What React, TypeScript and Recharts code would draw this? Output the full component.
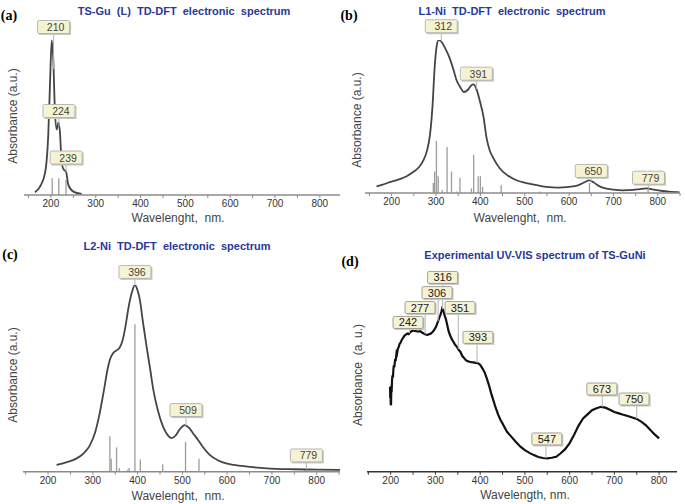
import React from "react";
import { ComposedChart, Line, XAxis, YAxis, ReferenceLine, ReferenceDot } from "recharts";

const W = 685;
const H = 504;
const XAXIS_H = 30;
const SANS = '"Liberation Sans", Arial, sans-serif';

// (a) TS-Gu (L) TD-DFT
const aWave = [164.5, 175.7, 186.9, 194.3, 198, 201.8, 205.4, 209, 213, 216.6, 220.3, 224, 229, 233.7, 238.9, 250, 268.7];
const aAbs = [0.016, 0.05, 0.13, 0.37, 0.66, 0.92, 0.8, 0.5, 0.39, 0.43, 0.37, 0.19, 0.15, 0.14, 0.06, 0.02, 0.006];
const aStickWave = [203, 217.6, 233.7];
const aStickAbs = [0.1, 0.1, 0.09];
const aPeaks = ["210", "224", "239"];
const aTagX = [206, 218, 234];
const aTagY = [1.0, 0.5, 0.223];

// (b) L1-Ni TD-DFT
const bWave = [166, 180, 200, 220, 234, 250, 262, 271, 280, 286, 292, 297, 301, 306, 312, 320, 331, 340, 346, 355, 363, 372, 380, 385, 391, 399, 407, 414, 421, 429, 444, 459, 480, 504, 530, 549, 575, 600, 620, 635, 645, 655, 665, 676, 700, 721, 745, 760, 775, 790, 810, 830, 849];
const bAbs = [0.043, 0.055, 0.075, 0.092, 0.11, 0.14, 0.17, 0.21, 0.28, 0.37, 0.56, 0.82, 0.95, 1.0, 0.99, 0.95, 0.88, 0.8, 0.74, 0.69, 0.66, 0.675, 0.705, 0.71, 0.68, 0.6, 0.5, 0.36, 0.28, 0.23, 0.16, 0.12, 0.085, 0.065, 0.05, 0.04, 0.035, 0.04, 0.05, 0.07, 0.082, 0.07, 0.05, 0.035, 0.022, 0.017, 0.02, 0.026, 0.03, 0.022, 0.013, 0.008, 0.004];
const bStickWave = [294, 297, 301, 305, 314, 325, 335, 346, 354, 380, 385, 395, 400, 405, 447, 534, 646, 778];
const bStickAbs = [0.065, 0.14, 0.34, 0.11, 0.02, 0.3, 0.14, 0.01, 0.1, 0.03, 0.25, 0.11, 0.11, 0.04, 0.05, 0.01, 0.065, 0.02];
const bPeaks = ["312", "391", "650", "779"];
const bTagX = [312, 391, 650, 779];
const bTagY = [1.09, 0.78, 0.144, 0.1];

// (c) L2-Ni TD-DFT
const cWave = [219, 240, 263, 280, 293, 305, 315, 325, 333, 338, 345, 353, 360, 366, 373, 379, 386, 394, 400, 405, 412, 420, 428, 435, 445, 457, 466, 476, 485, 495, 505, 515, 524, 532, 545, 561, 580, 600, 614, 650, 688, 750, 800, 852];
const cAbs = [0.036, 0.05, 0.07, 0.1, 0.14, 0.21, 0.31, 0.44, 0.55, 0.6, 0.635, 0.65, 0.665, 0.7, 0.78, 0.87, 0.95, 1.0, 0.97, 0.92, 0.8, 0.67, 0.55, 0.44, 0.33, 0.24, 0.2, 0.18, 0.195, 0.23, 0.25, 0.235, 0.205, 0.18, 0.135, 0.09, 0.06, 0.043, 0.036, 0.026, 0.018, 0.013, 0.011, 0.01];
const cStickWave = [338, 341, 353, 359, 378, 381, 394, 406, 456, 507, 537, 774];
const cStickAbs = [0.19, 0.07, 0.13, 0.018, 0.01, 0.02, 0.79, 0.066, 0.04, 0.16, 0.07, 0.01];
const cPeaks = ["396", "509", "779"];
const cTagX = [394, 508, 777];
const cTagY = [1.07, 0.33, 0.087];

// (d) experimental UV-VIS
const dWave = [198.5, 199, 199.5, 200, 200.7, 201.5, 202, 203, 204, 205, 206, 207, 208, 210, 211, 213, 214, 216, 218, 220, 222, 225, 228, 231, 234, 237, 240, 243, 246, 250, 254, 258, 262, 266, 270, 274, 278, 282, 286, 290, 294, 298, 302, 306, 309, 311, 313, 315, 317, 319, 321, 323, 326, 329, 332, 336, 340, 344, 348, 352, 356, 360, 364, 368, 372, 376, 380, 385, 390, 395, 400, 405, 410, 415, 420, 425, 430, 435, 440, 445, 450, 455, 460, 470, 480, 490, 500, 510, 520, 530, 540, 550, 560, 570, 580, 590, 600, 610, 620, 630, 640, 650, 660, 670, 680, 690, 700, 710, 720, 730, 740, 750, 760, 770, 780, 790, 800];
const dAbs = [0.415, 0.36, 0.4, 0.33, 0.325, 0.42, 0.39, 0.45, 0.47, 0.46, 0.5, 0.52, 0.51, 0.55, 0.54, 0.58, 0.575, 0.6, 0.61, 0.625, 0.63, 0.645, 0.655, 0.665, 0.67, 0.675, 0.672, 0.68, 0.685, 0.69, 0.688, 0.686, 0.684, 0.686, 0.68, 0.675, 0.67, 0.668, 0.672, 0.675, 0.684, 0.695, 0.712, 0.735, 0.755, 0.765, 0.78, 0.797, 0.79, 0.775, 0.76, 0.748, 0.72, 0.69, 0.67, 0.65, 0.635, 0.62, 0.61, 0.595, 0.585, 0.565, 0.555, 0.545, 0.54, 0.537, 0.535, 0.534, 0.532, 0.53, 0.522, 0.505, 0.485, 0.455, 0.42, 0.38, 0.345, 0.31, 0.28, 0.255, 0.235, 0.215, 0.195, 0.17, 0.145, 0.122, 0.105, 0.092, 0.081, 0.072, 0.067, 0.065, 0.068, 0.073, 0.09, 0.11, 0.14, 0.18, 0.225, 0.26, 0.28, 0.3, 0.31, 0.317, 0.313, 0.303, 0.292, 0.285, 0.278, 0.272, 0.265, 0.258, 0.245, 0.228, 0.205, 0.182, 0.163];
const dPeaks = ["316", "306", "351", "277", "242", "393", "673", "750", "547"];
const dTagX = [316, 303.5, 355, 265.5, 238.7, 395, 672, 744, 549];
const dTagY = [0.949, 0.875, 0.802, 0.802, 0.729, 0.656, 0.404, 0.355, 0.16];
const dLeadX = [316, 306, 351, 277, 242, 393, 673, 750, 547];

const xTicks = [150, 200, 250, 300, 350, 400, 450, 500, 550, 600, 650, 700, 750, 800, 850];

type Rect = { l: number; t: number; r: number; b: number };

function interp(xs: number[], ys: number[], x: number) {
  for (let i = 1; i < xs.length; i++) {
    if (x <= xs[i]) {
      const f = (x - xs[i - 1]) / (xs[i] - xs[i - 1]);
      return ys[i - 1] + f * (ys[i] - ys[i - 1]);
    }
  }
  return ys[ys.length - 1];
}

const Tag = ({ cx, cy, text, w, h, dark }: any) => (
  <g>
    <rect x={cx - w / 2 + 1.5} y={cy - h / 2 + 1.5} width={w} height={h} fill="#c8c8c8" />
    <rect x={cx - w / 2} y={cy - h / 2} width={w} height={h} rx={1.5} fill="#f6f3d2" stroke={dark ? "#8c8c8c" : "#a8a8a8"} strokeWidth={0.8} />
    <text x={cx + (dark ? 0 : 2)} y={cy + 4} textAnchor="middle" fontSize={dark ? 11 : 10.5} fontFamily={SANS} fill={dark ? "#1a1a1a" : "#444"}>
      {text}
    </text>
  </g>
);

function Spectrum(props: {
  plot: Rect;
  domain: [number, number];
  wave: number[];
  abs: number[];
  stickWave?: number[];
  stickAbs?: number[];
  peaks: string[];
  tagX: number[];
  tagY: number[];
  leadX?: number[];
  dark?: boolean;
}) {
  const { plot, domain, wave, abs, dark } = props;
  const data = wave.map((nm, i) => ({ nm, a: abs[i] }));
  const plotH = plot.b - plot.t;
  const tagW = dark ? 30 : 32;
  const tagH = dark ? 12 : 13;
  const axisColor = dark ? "#333" : "#8c8c8c";
  const ticks = xTicks.filter((t) => t >= domain[0] && t <= domain[1]);
  const leadX = props.leadX || props.tagX;

  return (
    <div style={{ position: "absolute", left: 0, top: 0 }}>
      <ComposedChart
        width={W}
        height={H}
        data={data}
        margin={{ left: plot.l, top: plot.t, right: W - plot.r, bottom: H - plot.b - XAXIS_H }}
      >
        <XAxis
          dataKey="nm"
          type="number"
          domain={domain}
          allowDataOverflow
          ticks={ticks}
          interval={0}
          height={XAXIS_H}
          tickFormatter={(v: number) => (v % 100 === 0 && v >= 200 && v <= 800 ? String(v) : "")}
          tick={{ fontSize: 10, fill: "#333", fontFamily: SANS }}
          tickSize={3}
          tickMargin={2}
          axisLine={{ stroke: axisColor, strokeWidth: dark ? 1.6 : 1.4 }}
          tickLine={{ stroke: axisColor }}
        />
        <YAxis
          type="number"
          domain={[0, 1]}
          allowDataOverflow
          width={0}
          tick={false}
          tickLine={false}
          axisLine={{ stroke: axisColor, strokeWidth: dark ? 1.6 : 1.4 }}
        />
        {(props.stickWave || []).map((s, i) => (
          <ReferenceLine
            key={"s" + i}
            segment={[
              { x: s, y: 0 },
              { x: s, y: props.stickAbs![i] },
            ]}
            stroke="#9c9c9c"
            strokeWidth={1.3}
            ifOverflow="visible"
          />
        ))}
        <Line
          dataKey="a"
          type={dark ? "linear" : "monotone"}
          stroke={dark ? "#111" : "#454545"}
          strokeWidth={dark ? 2.2 : 1.8}
          dot={false}
          isAnimationActive={false}
        />
        {props.peaks.map((p, i) => {
          const top = props.tagY[i] - tagH / 2 / plotH;
          const bottom = interp(wave, abs, leadX[i]);
          if (bottom >= top) return null;
          return (
            <ReferenceLine
              key={"l" + i}
              segment={[
                { x: leadX[i], y: top },
                { x: leadX[i], y: bottom },
              ]}
              stroke="#b4b4b4"
              strokeWidth={1}
              ifOverflow="visible"
            />
          );
        })}
        {props.peaks.map((p, i) => (
          <ReferenceDot
            key={"t" + i}
            x={props.tagX[i]}
            y={props.tagY[i]}
            r={0}
            ifOverflow="visible"
            shape={(sp: any) => <Tag cx={sp.cx} cy={sp.cy} text={p} w={tagW} h={tagH} dark={dark} />}
          />
        ))}
      </ComposedChart>
    </div>
  );
}

const Txt = ({ x, y, rot, style, children }: any) => (
  <div
    style={{
      position: "absolute",
      left: x,
      top: y,
      transform: `translate(-50%, -50%)${rot ? " rotate(-90deg)" : ""}`,
      whiteSpace: "pre",
      lineHeight: 1,
      ...style,
    }}
  >
    {children}
  </div>
);

const titleStyle = { fontFamily: SANS, fontWeight: 700, fontSize: 11, color: "#28399a" };
const letterStyle = { fontFamily: '"Liberation Serif", "Times New Roman", serif', fontWeight: 700, fontSize: 14, color: "#000" };
const axisTitle = { fontFamily: SANS, fontSize: 12, color: "#444" };

export default function App() {
  return (
    <div style={{ position: "absolute", left: 0, top: 0, width: W, height: H, background: "#fff", overflow: "hidden" }}>
      <Spectrum plot={{ l: 24, t: 27, r: 340, b: 195 }} domain={[140, 845]} wave={aWave} abs={aAbs}
        stickWave={aStickWave} stickAbs={aStickAbs} peaks={aPeaks} tagX={aTagX} tagY={aTagY} />
      <Spectrum plot={{ l: 365, t: 40, r: 680, b: 193 }} domain={[140, 850]} wave={bWave} abs={bAbs}
        stickWave={bStickWave} stickAbs={bStickAbs} peaks={bPeaks} tagX={bTagX} tagY={bTagY} />
      <Spectrum plot={{ l: 23, t: 285, r: 340, b: 471.7 }} domain={[144, 852]} wave={cWave} abs={cAbs}
        stickWave={cStickWave} stickAbs={cStickAbs} peaks={cPeaks} tagX={cTagX} tagY={cTagY} />
      <Spectrum plot={{ l: 367, t: 267, r: 677, b: 471.7 }} domain={[147, 840]} wave={dWave} abs={dAbs}
        peaks={dPeaks} tagX={dTagX} tagY={dTagY} leadX={dLeadX} dark />

      <Txt x={9} y={16} style={letterStyle}>(a)</Txt>
      <Txt x={349} y={16} style={letterStyle}>(b)</Txt>
      <Txt x={10} y={255} style={letterStyle}>(c)</Txt>
      <Txt x={350} y={262} style={letterStyle}>(d)</Txt>

      <Txt x={184} y={11} style={titleStyle}>{"TS-Gu  (L)  TD-DFT  electronic  spectrum"}</Txt>
      <Txt x={512} y={11} style={titleStyle}>{"L1-Ni  TD-DFT  electronic  spectrum"}</Txt>
      <Txt x={177} y={246} style={titleStyle}>{"L2-Ni  TD-DFT  electronic  spectrum"}</Txt>
      <Txt x={535} y={255} style={titleStyle}>{"Experimental UV-VIS spectrum of TS-GuNi"}</Txt>

      <Txt x={13} y={116} rot style={axisTitle}>{"Absorbance (a.u.)"}</Txt>
      <Txt x={357} y={120} rot style={axisTitle}>{"Absorbance (a.u.)"}</Txt>
      <Txt x={13} y={375} rot style={axisTitle}>{"Absorbance (a.u.)"}</Txt>
      <Txt x={358} y={375} rot style={axisTitle}>{"Absorbance  (a. u.)"}</Txt>

      <Txt x={178} y={218} style={axisTitle}>{"Wavelenght,  nm."}</Txt>
      <Txt x={520} y={218} style={axisTitle}>{"Wavelenght,  nm."}</Txt>
      <Txt x={178} y={496} style={axisTitle}>{"Wavelenght,  nm."}</Txt>
      <Txt x={525} y={495} style={axisTitle}>{"Wavelength, nm."}</Txt>
    </div>
  );
}
